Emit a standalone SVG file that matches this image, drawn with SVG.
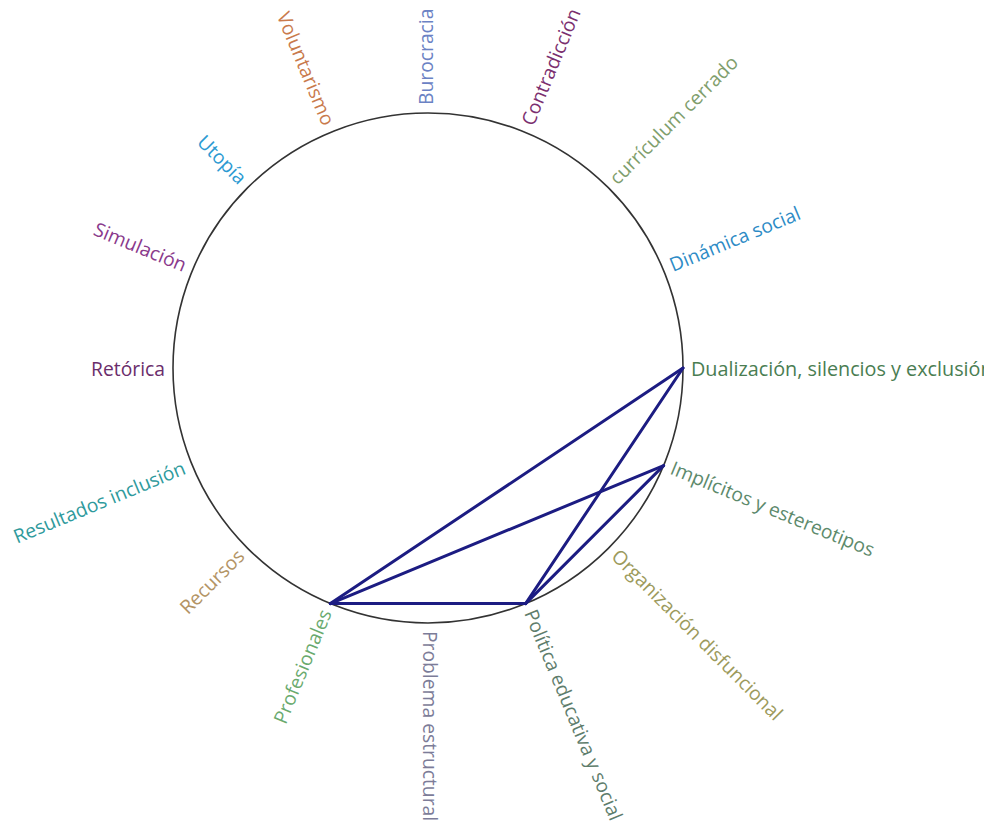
<svg xmlns="http://www.w3.org/2000/svg" width="984" height="825" viewBox="0 0 984 825">
<style>
text{font-family:"Open Sans","Noto Sans",sans-serif;font-size:19.3px;dominant-baseline:middle}
.r{text-anchor:start}
.l{text-anchor:end}
.ring{fill:none;stroke:#333;stroke-width:1.6}
.link{stroke:#1c1c82;stroke-width:3;fill:none;stroke-linecap:round}
</style>
<rect width="984" height="825" fill="#fff"/>
<circle class="ring" cx="428" cy="368" r="255"/>
<g id="connectors">
<line class="link" x1="330.4" y1="603.6" x2="683" y2="368"/>
<line class="link" x1="330.4" y1="603.6" x2="663.6" y2="465.6"/>
<line class="link" x1="330.4" y1="603.6" x2="525.6" y2="603.6"/>
<line class="link" x1="525.6" y1="603.6" x2="683" y2="368"/>
<line class="link" x1="525.6" y1="603.6" x2="663.6" y2="465.6"/>
</g>
<g id="n-burocracia" transform="translate(428 368) rotate(-90) translate(263 0)"><text class="r" fill="#6b82c4">Burocracia</text></g>
<g id="n-contradiccion" transform="translate(428 368) rotate(-67.5) translate(263 0)"><text class="r" fill="#7b2f6f">Contradicción</text></g>
<g id="n-curriculum" transform="translate(428 368) rotate(-45) translate(263 0)"><text class="r" fill="#7f9e6c">currículum cerrado</text></g>
<g id="n-dinamica" transform="translate(428 368) rotate(-22.5) translate(263 0)"><text class="r" fill="#2d8bc6">Dinámica social</text></g>
<g id="n-dualizacion" transform="translate(428 368) rotate(0) translate(263 3)"><text class="r" fill="#4a7d52" style="font-size:19.8px">Dualización, silencios y exclusión</text></g>
<g id="n-implicitos" transform="translate(428 368) rotate(22.5) translate(263 0)"><text class="r" fill="#5d8a6c">Implícitos y estereotipos</text></g>
<g id="n-organizacion" transform="translate(428 368) rotate(45) translate(263 0)"><text class="r" fill="#9c9a5c">Organización disfuncional</text></g>
<g id="n-politica" transform="translate(428 368) rotate(67.5) translate(263 0)"><text class="r" fill="#5e7d6c">Política educativa y social</text></g>
<g id="n-problema" transform="translate(428 368) rotate(90) translate(263 0)"><text class="r" fill="#7c7c98">Problema estructural</text></g>
<g id="n-profesionales" transform="translate(428 368) rotate(112.5) translate(263 0) rotate(180)"><text class="l" fill="#6aaa6e">Profesionales</text></g>
<g id="n-recursos" transform="translate(428 368) rotate(135) translate(263 0) rotate(180)"><text class="l" fill="#b39465">Recursos</text></g>
<g id="n-resultados" transform="translate(428 368) rotate(157.5) translate(263 0) rotate(180)"><text class="l" fill="#2e9a9c">Resultados inclusión</text></g>
<g id="n-retorica" transform="translate(428 368) rotate(180) translate(263 0) rotate(180) translate(0 3)"><text class="l" fill="#6b2d6b">Retórica</text></g>
<g id="n-simulacion" transform="translate(428 368) rotate(202.5) translate(263 0) rotate(180)"><text class="l" fill="#8a3a8c">Simulación</text></g>
<g id="n-utopia" transform="translate(428 368) rotate(225) translate(263 0) rotate(180)"><text class="l" fill="#2b9ad2">Utopía</text></g>
<g id="n-voluntarismo" transform="translate(428 368) rotate(247.5) translate(263 0) rotate(180)"><text class="l" fill="#c97a4c">Voluntarismo</text></g>
</svg>
